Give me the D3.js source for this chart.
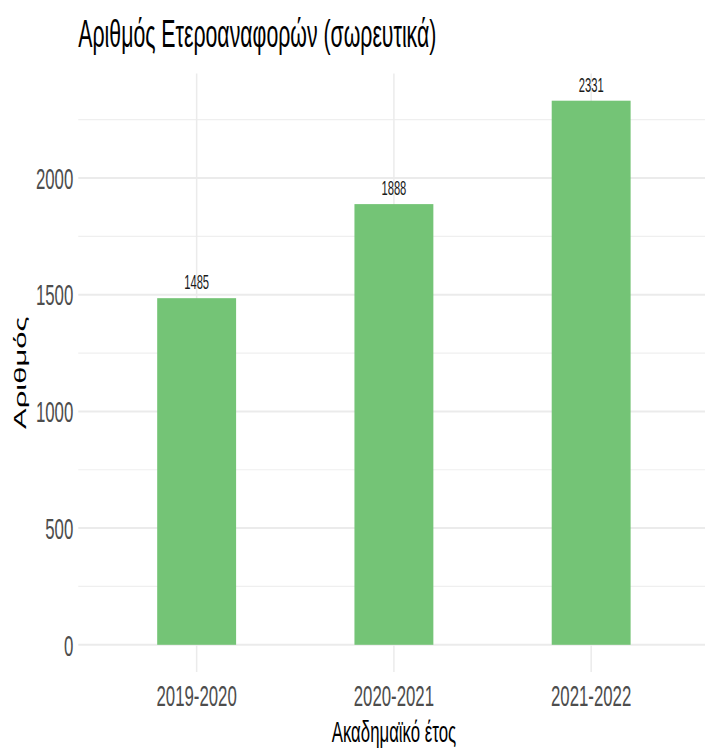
<!DOCTYPE html>
<html>
<head>
<meta charset="utf-8">
<script src="https://cdn.jsdelivr.net/npm/d3@7"></script>
<style>
  html, body { margin: 0; padding: 0; background: #ffffff; }
  svg { display: block; }
  text { font-family: "Liberation Sans", Arial, sans-serif; }
</style>
</head>
<body>
<div id="chart"></div>
<script>
// ---- data ----
const categories = ["2019-2020", "2020-2021", "2021-2022"];
const values = [1485, 1888, 2331];
const yTicks = [0, 500, 1000, 1500, 2000];
const yMinorTicks = [250, 750, 1250, 1750, 2250];
const titleText = "Αριθμός Ετεροαναφορών (σωρευτικά)";
const xTitle = "Ακαδημαϊκό έτος";
const yTitle = "Αριθμός";

// ---- layout (chart drawn in a wider virtual space, squeezed horizontally) ----
const W = 705, H = 749;
const sx = 0.56;
const VW = W / sx;
const panel = { left: 139.8, right: 1267, top: 73.5, bottom: 672 };

const svg = d3.select("#chart").append("svg")
  .attr("width", W).attr("height", H)
  .attr("viewBox", `0 0 ${VW} ${H}`)
  .attr("preserveAspectRatio", "none");

const maxV = d3.max(values);
const x = d3.scaleBand().domain(categories)
  .range([panel.left, panel.right])
  .paddingInner(0.6).paddingOuter(0.4);
const y = d3.scaleLinear()
  .domain([-0.05 * maxV, 1.05 * maxV])
  .range([panel.bottom, panel.top]);

const grid = svg.append("g");
// minor horizontal grid
grid.selectAll("line.minor").data(yMinorTicks).join("line")
  .attr("x1", panel.left).attr("x2", panel.right)
  .attr("y1", d => y(d)).attr("y2", d => y(d))
  .attr("stroke", "#EFEFEF").attr("stroke-width", 1.2)
  .attr("vector-effect", "non-scaling-stroke");
// major horizontal grid
grid.selectAll("line.major").data(yTicks).join("line")
  .attr("x1", panel.left).attr("x2", panel.right)
  .attr("y1", d => y(d)).attr("y2", d => y(d))
  .attr("stroke", "#EBEBEB").attr("stroke-width", 2)
  .attr("vector-effect", "non-scaling-stroke");
// vertical grid
grid.selectAll("line.v").data(categories).join("line")
  .attr("x1", d => x(d) + x.bandwidth() / 2).attr("x2", d => x(d) + x.bandwidth() / 2)
  .attr("y1", panel.top).attr("y2", panel.bottom)
  .attr("stroke", "#EBEBEB").attr("stroke-width", 1.5)
  .attr("vector-effect", "non-scaling-stroke");

// bars
svg.append("g").selectAll("rect").data(values).join("rect")
  .attr("x", (d, i) => x(categories[i]))
  .attr("width", x.bandwidth())
  .attr("y", d => y(d))
  .attr("height", d => y(0) - y(d))
  .attr("fill", "#74C476");

// value labels
svg.append("g").selectAll("text").data(values).join("text")
  .attr("x", (d, i) => x(categories[i]) + x.bandwidth() / 2)
  .attr("y", d => y(d) - 9)
  .attr("text-anchor", "middle")
  .attr("font-size", 20)
  .attr("fill", "#1a1a1a")
  .text(d => d);

// y tick labels
svg.append("g").selectAll("text").data(yTicks).join("text")
  .attr("x", panel.left - 9)
  .attr("y", d => y(d))
  .attr("dy", "0.36em")
  .attr("text-anchor", "end")
  .attr("font-size", 30)
  .attr("fill", "#4D4D4D")
  .text(d => d);

// x tick labels
svg.append("g").selectAll("text").data(categories).join("text")
  .attr("x", d => x(d) + x.bandwidth() / 2)
  .attr("y", 706)
  .attr("text-anchor", "middle")
  .attr("font-size", 30)
  .attr("fill", "#4D4D4D")
  .text(d => d);

// axis titles
svg.append("text")
  .attr("x", (panel.left + panel.right) / 2)
  .attr("y", 742)
  .attr("text-anchor", "middle")
  .attr("font-size", 30)
  .attr("fill", "#000")
  .text(xTitle);

svg.append("text")
  .attr("transform", `translate(47,${(panel.top + panel.bottom) / 2}) rotate(-90)`)
  .attr("text-anchor", "middle")
  .attr("font-size", 31)
  .attr("fill", "#000")
  .text(yTitle);

// title
svg.append("text")
  .attr("x", panel.left)
  .attr("y", 47)
  .attr("font-size", 38)
  .attr("fill", "#000")
  .text(titleText);
</script>
</body>
</html>
